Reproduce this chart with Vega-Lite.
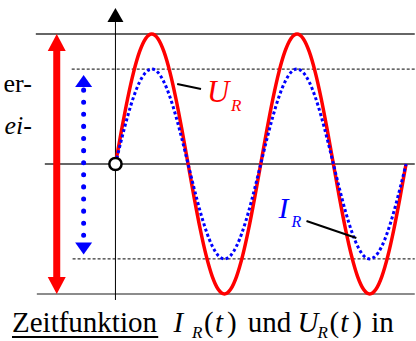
{
"$schema": "https://vega.github.io/schema/vega-lite/v6.json",
"width": 416, "height": 341,
"autosize": {"type": "fit", "contains": "padding"},
"padding": 0,
"background": "white",
"config": {"view": {"stroke": null}, "text": {"font": "'Liberation Serif', 'Times New Roman', 'DejaVu Serif', serif"}},
"datasets": {
"red": [
{"t":0,"a":0},{"t":0.04167,"a":0.2588},{"t":0.08333,"a":0.5},{"t":0.125,"a":0.7071},{"t":0.16667,"a":0.866},{"t":0.20833,"a":0.9659},{"t":0.25,"a":1},{"t":0.29167,"a":0.9659},{"t":0.33333,"a":0.866},{"t":0.375,"a":0.7071},{"t":0.41667,"a":0.5},{"t":0.45833,"a":0.2588},{"t":0.5,"a":0},{"t":0.54167,"a":-0.2588},{"t":0.58333,"a":-0.5},{"t":0.625,"a":-0.7071},{"t":0.66667,"a":-0.866},{"t":0.70833,"a":-0.9659},{"t":0.75,"a":-1},{"t":0.79167,"a":-0.9659},{"t":0.83333,"a":-0.866},{"t":0.875,"a":-0.7071},{"t":0.91667,"a":-0.5},{"t":0.95833,"a":-0.2588},{"t":1,"a":0},
{"t":1.04167,"a":0.2588},{"t":1.08333,"a":0.5},{"t":1.125,"a":0.7071},{"t":1.16667,"a":0.866},{"t":1.20833,"a":0.9659},{"t":1.25,"a":1},{"t":1.29167,"a":0.9659},{"t":1.33333,"a":0.866},{"t":1.375,"a":0.7071},{"t":1.41667,"a":0.5},{"t":1.45833,"a":0.2588},{"t":1.5,"a":0},{"t":1.54167,"a":-0.2588},{"t":1.58333,"a":-0.5},{"t":1.625,"a":-0.7071},{"t":1.66667,"a":-0.866},{"t":1.70833,"a":-0.9659},{"t":1.75,"a":-1},{"t":1.79167,"a":-0.9659},{"t":1.83333,"a":-0.866},{"t":1.875,"a":-0.7071},{"t":1.91667,"a":-0.5},{"t":1.95833,"a":-0.2588},{"t":2,"a":0}
],
"blue": [
{"t":0,"a":0},{"t":0.04167,"a":0.1889},{"t":0.08333,"a":0.365},{"t":0.125,"a":0.5162},{"t":0.16667,"a":0.6322},{"t":0.20833,"a":0.7051},{"t":0.25,"a":0.73},{"t":0.29167,"a":0.7051},{"t":0.33333,"a":0.6322},{"t":0.375,"a":0.5162},{"t":0.41667,"a":0.365},{"t":0.45833,"a":0.1889},{"t":0.5,"a":0},{"t":0.54167,"a":-0.1889},{"t":0.58333,"a":-0.365},{"t":0.625,"a":-0.5162},{"t":0.66667,"a":-0.6322},{"t":0.70833,"a":-0.7051},{"t":0.75,"a":-0.73},{"t":0.79167,"a":-0.7051},{"t":0.83333,"a":-0.6322},{"t":0.875,"a":-0.5162},{"t":0.91667,"a":-0.365},{"t":0.95833,"a":-0.1889},{"t":1,"a":0},
{"t":1.04167,"a":0.1889},{"t":1.08333,"a":0.365},{"t":1.125,"a":0.5162},{"t":1.16667,"a":0.6322},{"t":1.20833,"a":0.7051},{"t":1.25,"a":0.73},{"t":1.29167,"a":0.7051},{"t":1.33333,"a":0.6322},{"t":1.375,"a":0.5162},{"t":1.41667,"a":0.365},{"t":1.45833,"a":0.1889},{"t":1.5,"a":0},{"t":1.54167,"a":-0.1889},{"t":1.58333,"a":-0.365},{"t":1.625,"a":-0.5162},{"t":1.66667,"a":-0.6322},{"t":1.70833,"a":-0.7051},{"t":1.75,"a":-0.73},{"t":1.79167,"a":-0.7051},{"t":1.83333,"a":-0.6322},{"t":1.875,"a":-0.5162},{"t":1.91667,"a":-0.365},{"t":1.95833,"a":-0.1889},{"t":2,"a":0}
],
"hlinesTop": [{"t":-0.548,"t2":2.06,"a":1,"a2":1},{"t":-0.486,"t2":2.06,"a":0,"a2":0}],
"hlinesBottom": [{"t":-0.541,"t2":2.06,"a":-1,"a2":-1}],
"dashed": [{"t":-0.301,"t2":2.06,"a":0.73,"a2":0.73},{"t":-0.295,"t2":2.06,"a":-0.73,"a2":-0.73}],
"vaxis": [{"t":0,"t2":0,"a":1.1,"a2":-1.046}],
"axisHead": [{"t":0,"a":1.138}],
"leaders": [{"t":0.425,"t2":0.589,"a":0.615,"a2":0.577},{"t":1.315,"t2":1.658,"a":-0.438,"a2":-0.569}],
"redShaft": [{"t":-0.404,"t2":-0.404,"a":0.9,"a2":-0.9}],
"redUp": [{"t":-0.404,"a":0.931}],
"redDown": [{"t":-0.404,"a":-0.931}],
"blueShaft": [{"t":-0.219,"t2":-0.219,"a":0.569,"a2":-0.56}],
"blueUp": [{"t":-0.219,"a":0.638}],
"blueDown": [{"t":-0.219,"a":-0.65}],
"origin": [{"t":0,"a":0}],
"underline": [{"t":-0.712,"t2":0.2945,"a":-1.331,"a2":-1.331}],
"leftUpright": [{"t":-0.575,"a":0.554,"txt":"er-"}],
"leftItalic": [{"t":-0.575,"a":0.231,"txt":"ei-"}],
"bottomUpright": [{"t":-0.712,"a":-1.292,"txt":"Zeitfunktion"},{"t":0.61,"a":-1.292,"txt":"("},{"t":0.767,"a":-1.292,"txt":")"},{"t":0.911,"a":-1.292,"txt":"und"},{"t":1.473,"a":-1.292,"txt":"("},{"t":1.63,"a":-1.292,"txt":")"},{"t":1.76,"a":-1.292,"txt":"in"}],
"bottomItalic": [{"t":0.4,"a":-1.292,"txt":"I"},{"t":0.685,"a":-1.292,"txt":"t"},{"t":1.253,"a":-1.292,"txt":"U"},{"t":1.548,"a":-1.292,"txt":"t"}],
"bottomSub": [{"t":0.527,"a":-1.338,"txt":"R"},{"t":1.39,"a":-1.338,"txt":"R"}],
"redLabel": [{"t":0.63,"a":0.477,"txt":"U"}],
"redSub": [{"t":0.795,"a":0.408,"txt":"R"}],
"blueLabel": [{"t":1.123,"a":-0.415,"txt":"I"}],
"blueSub": [{"t":1.212,"a":-0.485,"txt":"R"}]
},
"encoding": {
"x": {"field": "t", "type": "quantitative", "scale": {"domain": [-0.79452, 2.05479], "nice": false, "zero": false}, "axis": null},
"y": {"field": "a", "type": "quantitative", "scale": {"domain": [-1.36154, 1.26154], "nice": false, "zero": false}, "axis": null}
},
"layer": [
{"data": {"name": "hlinesTop"}, "mark": {"type": "rule", "color": "#333333", "strokeWidth": 1.5}, "encoding": {"x2": {"field": "t2"}, "y2": {"field": "a2"}}},
{"data": {"name": "hlinesBottom"}, "mark": {"type": "rule", "color": "#666666", "strokeWidth": 1.5}, "encoding": {"x2": {"field": "t2"}, "y2": {"field": "a2"}}},
{"data": {"name": "dashed"}, "mark": {"type": "rule", "color": "#000000", "strokeWidth": 1, "strokeDash": [3, 2]}, "encoding": {"x2": {"field": "t2"}, "y2": {"field": "a2"}}},
{"data": {"name": "vaxis"}, "mark": {"type": "rule", "color": "#000000", "strokeWidth": 1}, "encoding": {"x2": {"field": "t2"}, "y2": {"field": "a2"}}},
{"data": {"name": "axisHead"}, "mark": {"type": "point", "shape": "M0,-1L1,0.75L-1,0.75Z", "size": 256, "filled": true, "color": "#000000", "opacity": 1, "strokeWidth": 0}},
{"data": {"name": "red"}, "mark": {"type": "line", "color": "#ff0000", "strokeWidth": 3.5, "interpolate": "monotone"}},
{"data": {"name": "blue"}, "mark": {"type": "line", "color": "#0000ff", "strokeWidth": 3, "strokeDash": [3, 2.5], "interpolate": "monotone"}},
{"data": {"name": "leaders"}, "mark": {"type": "rule", "color": "#000000", "strokeWidth": 2}, "encoding": {"x2": {"field": "t2"}, "y2": {"field": "a2"}}},
{"data": {"name": "redShaft"}, "mark": {"type": "rule", "color": "#ff0000", "strokeWidth": 7}, "encoding": {"x2": {"field": "t2"}, "y2": {"field": "a2"}}},
{"data": {"name": "redUp"}, "mark": {"type": "point", "shape": "M0,-1L1,0.9L-1,0.9Z", "size": 324, "filled": true, "color": "#ff0000", "opacity": 1, "strokeWidth": 0}},
{"data": {"name": "redDown"}, "mark": {"type": "point", "shape": "M0,1L1,-0.9L-1,-0.9Z", "size": 324, "filled": true, "color": "#ff0000", "opacity": 1, "strokeWidth": 0}},
{"data": {"name": "blueShaft"}, "mark": {"type": "rule", "color": "#0000ff", "strokeWidth": 5, "strokeCap": "round", "strokeDash": [0.1, 12]}, "encoding": {"x2": {"field": "t2"}, "y2": {"field": "a2"}}},
{"data": {"name": "blueUp"}, "mark": {"type": "point", "shape": "M0,-0.7L1,0.7L-1,0.7Z", "size": 289, "filled": true, "color": "#0000ff", "opacity": 1, "strokeWidth": 0}},
{"data": {"name": "blueDown"}, "mark": {"type": "point", "shape": "M0,0.7L1,-0.7L-1,-0.7Z", "size": 289, "filled": true, "color": "#0000ff", "opacity": 1, "strokeWidth": 0}},
{"data": {"name": "origin"}, "mark": {"type": "point", "shape": "circle", "size": 150, "filled": true, "fill": "#ffffff", "stroke": "#000000", "strokeWidth": 2.5, "opacity": 1}},
{"data": {"name": "underline"}, "mark": {"type": "rule", "color": "#000000", "strokeWidth": 2}, "encoding": {"x2": {"field": "t2"}, "y2": {"field": "a2"}}},
{"data": {"name": "leftUpright"}, "mark": {"type": "text", "align": "right", "baseline": "alphabetic", "fontSize": 26, "color": "#000000"}, "encoding": {"text": {"field": "txt"}}},
{"data": {"name": "leftItalic"}, "mark": {"type": "text", "align": "right", "baseline": "alphabetic", "fontSize": 26, "fontStyle": "italic", "color": "#000000"}, "encoding": {"text": {"field": "txt"}}},
{"data": {"name": "bottomUpright"}, "mark": {"type": "text", "align": "left", "baseline": "alphabetic", "fontSize": 29, "color": "#000000"}, "encoding": {"text": {"field": "txt"}}},
{"data": {"name": "bottomItalic"}, "mark": {"type": "text", "align": "left", "baseline": "alphabetic", "fontSize": 29, "fontStyle": "italic", "color": "#000000"}, "encoding": {"text": {"field": "txt"}}},
{"data": {"name": "bottomSub"}, "mark": {"type": "text", "align": "left", "baseline": "alphabetic", "fontSize": 17, "fontStyle": "italic", "color": "#000000"}, "encoding": {"text": {"field": "txt"}}},
{"data": {"name": "redLabel"}, "mark": {"type": "text", "align": "left", "baseline": "alphabetic", "fontSize": 31, "fontStyle": "italic", "color": "#ff0000"}, "encoding": {"text": {"field": "txt"}}},
{"data": {"name": "redSub"}, "mark": {"type": "text", "align": "left", "baseline": "alphabetic", "fontSize": 17, "fontStyle": "italic", "color": "#ff0000"}, "encoding": {"text": {"field": "txt"}}},
{"data": {"name": "blueLabel"}, "mark": {"type": "text", "align": "left", "baseline": "alphabetic", "fontSize": 30, "fontStyle": "italic", "color": "#0000ff"}, "encoding": {"text": {"field": "txt"}}},
{"data": {"name": "blueSub"}, "mark": {"type": "text", "align": "left", "baseline": "alphabetic", "fontSize": 16, "fontStyle": "italic", "color": "#0000ff"}, "encoding": {"text": {"field": "txt"}}}
]
}
